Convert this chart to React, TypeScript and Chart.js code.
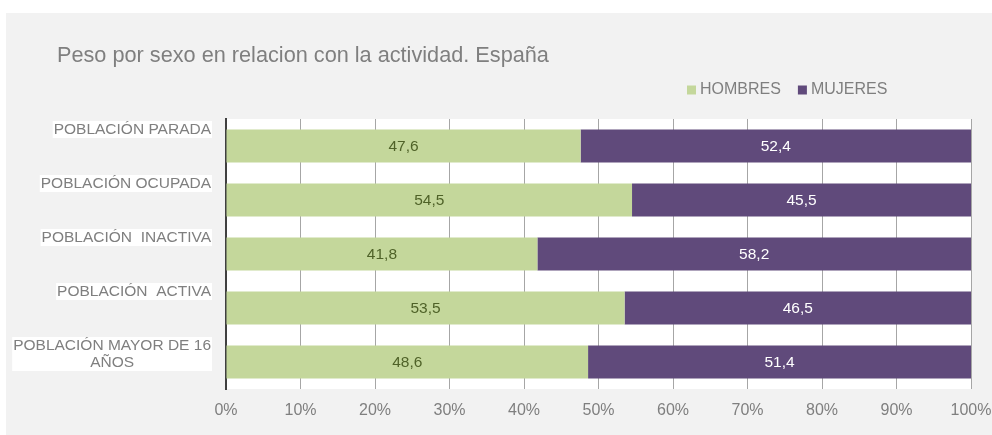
import React, { useEffect, useRef } from "react";
import { Chart, registerables } from "chart.js";

Chart.register(...registerables);

const chartTitle = "Peso por sexo en relacion con la actividad. España";
const categories: string[][] = [
  ["POBLACIÓN PARADA"],
  ["POBLACIÓN OCUPADA"],
  ["POBLACIÓN  INACTIVA"],
  ["POBLACIÓN  ACTIVA"],
  ["POBLACIÓN MAYOR DE 16", "AÑOS"],
];
const seriesNames = ["HOMBRES", "MUJERES"];
const hombres = [47.6, 54.5, 41.8, 53.5, 48.6];
const mujeres = [52.4, 45.5, 58.2, 46.5, 51.4];
const seriesColors = ["#c4d79b", "#604a7b"];
const labelColors = ["#4f6228", "#ffffff"];
const xMin = 0;
const xMax = 100;
const xStep = 10;

const FONT = "'Liberation Sans', Arial, sans-serif";
const GRAY_TEXT = "#7f7f7f";

const plotBg = {
  id: "plotBg",
  beforeDraw(chart: any) {
    const { ctx, chartArea } = chart;
    ctx.save();
    ctx.fillStyle = "#ffffff";
    ctx.fillRect(chartArea.left, chartArea.top, chartArea.right - chartArea.left, chartArea.bottom - chartArea.top);
    ctx.restore();
  },
};

const decorations = {
  id: "decorations",
  afterDraw(chart: any) {
    const { ctx, chartArea } = chart;
    const yScale = chart.scales.y;
    ctx.save();
    // title
    ctx.font = `21.7px ${FONT}`;
    ctx.fillStyle = GRAY_TEXT;
    ctx.textAlign = "left";
    ctx.textBaseline = "alphabetic";
    ctx.fillText(chartTitle, 51, 49);

    // legend
    ctx.font = `16px ${FONT}`;
    ctx.textBaseline = "middle";
    let lx = 681;
    const ly = 77;
    seriesNames.forEach((name, i) => {
      ctx.fillStyle = seriesColors[i];
      ctx.fillRect(lx, ly - 4.5, 9, 9);
      lx += 13;
      ctx.fillStyle = GRAY_TEXT;
      ctx.fillText(name, lx, ly);
      lx += ctx.measureText(name).width + 17;
    });

    // category labels
    ctx.font = `15.5px ${FONT}`;
    const rowH = (chartArea.bottom - chartArea.top) / categories.length;
    const lineH = 17;
    const right = 206;
    categories.forEach((lines, i) => {
      const rowTop = yScale.getPixelForValue(i) - rowH / 2;
      const top = rowTop + 2;
      const w = Math.max(...lines.map((l) => ctx.measureText(l).width)) + 2;
      ctx.fillStyle = "#ffffff";
      ctx.fillRect(right - w, top, w, lines.length * lineH);
      ctx.fillStyle = GRAY_TEXT;
      ctx.textAlign = "center";
      ctx.textBaseline = "middle";
      lines.forEach((l, j) => {
        ctx.fillText(l, right - w / 2, top + lineH * j + lineH / 2 + 0.5);
      });
    });
    ctx.restore();
  },
  afterDatasetsDraw(chart: any) {
    const { ctx } = chart;
    ctx.save();
    ctx.font = `15.5px ${FONT}`;
    ctx.textAlign = "center";
    ctx.textBaseline = "middle";
    chart.data.datasets.forEach((ds: any, di: number) => {
      const meta = chart.getDatasetMeta(di);
      meta.data.forEach((el: any, i: number) => {
        const v = ds.data[i];
        ctx.fillStyle = labelColors[di];
        ctx.fillText(v.toFixed(1).replace(".", ","), (el.x + el.base) / 2, el.y + 1);
      });
    });
    ctx.restore();
  },
};

export default function App() {
  const ref = useRef<HTMLCanvasElement | null>(null);
  useEffect(() => {
    if (!ref.current) return;
    const chart = new Chart(ref.current, {
      type: "bar",
      data: {
        labels: categories.map((c) => c.join(" ")),
        datasets: [
          { label: seriesNames[0], data: hombres, backgroundColor: seriesColors[0], borderWidth: 0 },
          { label: seriesNames[1], data: mujeres, backgroundColor: seriesColors[1], borderWidth: 0 },
        ],
      },
      options: {
        indexAxis: "y",
        responsive: false,
        animation: false,
        devicePixelRatio: 1,
        layout: { padding: { top: 106, right: 0, left: 0, bottom: 0 } },
        datasets: { bar: { barPercentage: 0.61, categoryPercentage: 1 } },
        plugins: { legend: { display: false }, title: { display: false }, tooltip: { enabled: false } },
        scales: {
          x: {
            stacked: true,
            min: xMin,
            max: xMax,
            afterFit: (s: any) => { s.height = 46; s.paddingRight = 21; },
            ticks: {
              stepSize: xStep,
              padding: 12,
              color: GRAY_TEXT,
              font: { family: FONT, size: 16 },
              callback: (v: any) => `${v}%`,
              maxRotation: 0,
            },
            grid: { color: "#a6a6a6", lineWidth: 1, drawTicks: false },
            border: { display: false },
          },
          y: {
            stacked: true,
            afterFit: (s: any) => { s.width = 220; },
            ticks: { display: false },
            grid: { display: false, drawTicks: false },
            border: { display: true, color: "#404040", width: 2 },
          },
        },
      },
      plugins: [plotBg, decorations],
    } as any);
    return () => chart.destroy();
  }, []);
  return (
    <div style={{ position: "absolute", left: 0, top: 0, width: 992, height: 435, background: "#ffffff" }}>
      <div style={{ position: "absolute", left: 6, top: 13, width: 986, height: 422, background: "#f2f2f2" }}>
        <canvas ref={ref} width={986} height={422} style={{ display: "block" }} />
      </div>
    </div>
  );
}
